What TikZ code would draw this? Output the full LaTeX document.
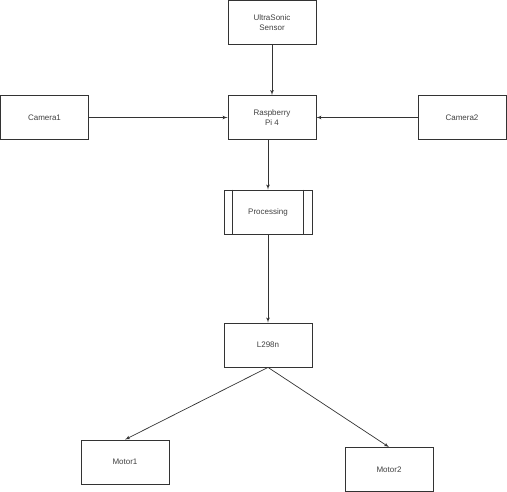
\documentclass[tikz,border=0pt]{standalone}
\usepackage{fontspec}
\setmainfont{Liberation Sans}
\usetikzlibrary{arrows}
\usetikzlibrary{positioning}
\tikzstyle{line} = [draw, -latex']
\tikzset{
    block/.style={draw=black!80, line width=0.8pt, rectangle, minimum width=88pt,
        minimum height=44pt, inner sep=0pt, align=center, text=black!75,
        font=\fontsize{8}{9.5}\selectfont},
    wire/.style={draw=black!80, line width=0.7pt, -latex'},
}
\begin{document}
\begin{tikzpicture}[x=1pt, y=-1pt]
	\useasboundingbox (0,0) rectangle (507,492);
	\node[block] (sonic) at (272,22.5) {UltraSonic\\Sensor};
	\node[block] (rpi) at (272,117.5) {Raspberry\\Pi 4};
	\node[block] (cam1) at (44.5,117.5) {Camera1};
	\node[block] (cam2) at (462,117.5) {Camera2};
	\node[block] (proc) at (268,212) {Processing};
	\draw[draw=black!80, line width=0.8pt] ([xshift=9pt]proc.north west) -- ([xshift=9pt]proc.south west);
	\draw[draw=black!80, line width=0.8pt] ([xshift=-9pt]proc.north east) -- ([xshift=-9pt]proc.south east);
	\node[block] (driver) at (268,345) {L298n};
	\node[block] (motor1) at (125,462) {Motor1};
	\node[block] (motor2) at (389,469.5) {Motor2};
	% connections
	\draw[wire] (sonic) -- (rpi);
	\draw[wire] (cam1) -- (rpi);
	\draw[wire] (cam2) -- (rpi);
	\draw[wire] (proc.north |- rpi.south) -- (proc.north);
	\draw[wire] (proc) -- (driver);
	\draw[wire] (driver.south) -- (motor1.north);
	\draw[wire] (driver.south) -- (motor2.north);
\end{tikzpicture}
\end{document}
